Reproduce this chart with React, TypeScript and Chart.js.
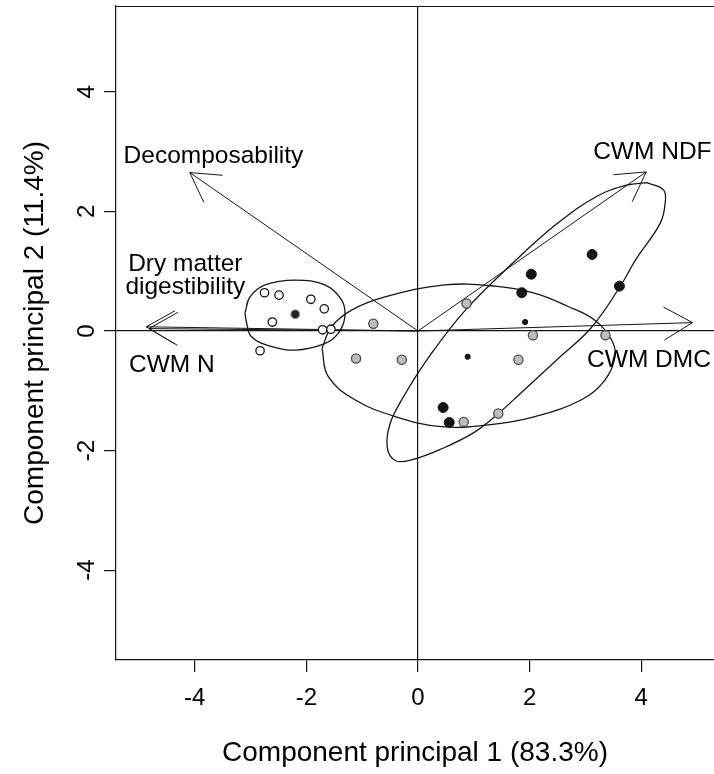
import React, { useEffect, useRef } from "react";
import { Chart, registerables } from "chart.js";

Chart.register(...registerables);

// ---------- data ----------
const X_TICKS = [-4, -2, 0, 2, 4];
const Y_TICKS = [-4, -2, 0, 2, 4];
const X_MIN = -5.412;
const X_MAX = 5.305;
const Y_MIN = -5.502;
const Y_MAX = 5.435;
const X_TITLE = "Component principal 1 (83.3%)";
const Y_TITLE = "Component principal 2 (11.4%)";

// group 1 (open circles)
const WHITE_X = [-2.75, -2.49, -1.92, -1.68, -2.61, -1.71, -1.56, -2.83];
const WHITE_Y = [0.64, 0.6, 0.53, 0.37, 0.15, 0.02, 0.03, -0.33];
const DARK_X = [-2.2];
const DARK_Y = [0.28];
// group 2 (grey circles)
const GRAY_X = [-0.8, -1.11, -0.29, 0.87, 2.06, 1.8, 3.36, 1.44, 0.82];
const GRAY_Y = [0.12, -0.46, -0.48, 0.46, -0.07, -0.48, -0.07, -1.38, -1.52];
// group 3 (black circles)
const BLACK_X = [3.12, 2.03, 1.86, 3.61, 0.45, 0.56];
const BLACK_Y = [1.28, 0.95, 0.64, 0.75, -1.28, -1.53];
const SMALL_X = [1.92, 0.89];
const SMALL_Y = [0.15, -0.43];

// ellipse outlines
const ELL1_X = [-3.1, -3.01, -2.74, -2.2, -1.67, -1.37, -1.31, -1.43, -1.67, -2.2, -2.62, -2.98, -3.07];
const ELL1_Y = [0.3, 0.57, 0.77, 0.85, 0.77, 0.52, 0.24, -0.04, -0.21, -0.32, -0.26, -0.1, 0.13];
const ELL2_X = [-1.72, -1.55, -1.19, -0.59, 0.48, 1.38, 2.1, 2.69, 3.17, 3.47, 3.53, 3.35, 2.93, 2.1, 1.26, 0.42, -0.41, -1.13, -1.61];
const ELL2_Y = [-0.29, 0.07, 0.35, 0.57, 0.77, 0.75, 0.63, 0.41, 0.18, -0.15, -0.43, -0.82, -1.15, -1.43, -1.57, -1.6, -1.43, -1.15, -0.76];
const ELL3_X = [4.1, 4.4, 4.43, 4.34, 3.9, 3.62, 3.1, 2.49, 1.83, 1.44, 1.0, 0.4, -0.1, -0.4, -0.55, -0.5, -0.26, 0.2, 0.85, 1.76, 2.5, 3.2, 3.74];
const ELL3_Y = [2.48, 2.36, 2.14, 1.8, 1.19, 0.74, 0.05, -0.48, -1.05, -1.38, -1.7, -1.98, -2.15, -2.17, -1.95, -1.55, -1.1, -0.43, 0.35, 1.19, 1.8, 2.25, 2.44];

// variable arrows (loadings)
const ARROW_NAMES = ["Decomposability", "CWM NDF", "CWM DMC", "CWM N", "Dry matter digestibility"];
const ARROW_X = [-4.09, 4.09, 4.92, -4.87, -4.82];
const ARROW_Y = [2.65, 2.66, 0.14, 0.07, 0.04];

// arrow labels (anchor in data units)
const LABEL_TEXT = ["Decomposability", "CWM NDF", "CWM DMC", "CWM N", "Dry matter", "digestibility"];
const LABEL_X = [-3.665, 4.2, 4.14, -4.41, -4.17, -4.17];
const LABEL_Y = [2.926, 2.99, -0.485, -0.569, 1.124, 0.736];

// ---------- styles ----------
const FONT = "'Liberation Sans', Arial, Helvetica, sans-serif";
const INK = "#151515";

const pts = (xs: number[], ys: number[]) => xs.map((x, i) => ({ x, y: ys[i] }));
const closed = (xs: number[], ys: number[]) => {
  const p = pts(xs, ys);
  return p.concat([p[0]]);
};

const extras = {
  id: "biplotExtras",
  afterDatasetsDraw(chart: any) {
    const { ctx, chartArea, scales } = chart;
    const sx = scales.x;
    const sy = scales.y;
    ctx.save();
    // top frame line
    ctx.strokeStyle = INK;
    ctx.lineWidth = 1.2;
    ctx.beginPath();
    ctx.moveTo(chartArea.left, chartArea.top + 0.5);
    ctx.lineTo(chartArea.right + 2, chartArea.top + 0.5);
    ctx.stroke();

    // arrow heads
    const ox = sx.getPixelForValue(0);
    const oy = sy.getPixelForValue(0);
    ctx.lineWidth = 1;
    const HEAD = 33;
    const ANG = Math.PI / 6;
    ARROW_X.forEach((ax, i) => {
      const tx = sx.getPixelForValue(ax);
      const ty = sy.getPixelForValue(ARROW_Y[i]);
      const a = Math.atan2(ty - oy, tx - ox) + Math.PI;
      ctx.beginPath();
      ctx.moveTo(tx + HEAD * Math.cos(a - ANG), ty + HEAD * Math.sin(a - ANG));
      ctx.lineTo(tx, ty);
      ctx.lineTo(tx + HEAD * Math.cos(a + ANG), ty + HEAD * Math.sin(a + ANG));
      ctx.stroke();
    });

    // labels
    ctx.fillStyle = "#000";
    ctx.font = `24.5px ${FONT}`;
    ctx.textAlign = "center";
    ctx.textBaseline = "middle";
    LABEL_TEXT.forEach((t, i) => {
      ctx.fillText(t, sx.getPixelForValue(LABEL_X[i]), sy.getPixelForValue(LABEL_Y[i]));
    });

    // y tick labels (rotated, R style)
    ctx.font = `24px ${FONT}`;
    Y_TICKS.forEach((v) => {
      const py = sy.getPixelForValue(v);
      ctx.save();
      ctx.translate(87, py);
      ctx.rotate(-Math.PI / 2);
      ctx.fillText(String(v), 0, 0);
      ctx.restore();
    });
    ctx.restore();
  },
};

export default function App() {
  const ref = useRef<HTMLCanvasElement | null>(null);

  useEffect(() => {
    if (!ref.current) return;
    const lineDs = (data: any[], width: number, tension: number) => ({
      type: "line" as const,
      data,
      showLine: true,
      borderColor: INK,
      borderWidth: width,
      pointRadius: 0,
      fill: false,
      tension,
    });

    const datasets: any[] = [
      { data: pts(SMALL_X, SMALL_Y), pointRadius: 2.6, backgroundColor: INK, borderColor: INK, borderWidth: 1 },
      { data: pts(BLACK_X, BLACK_Y), pointRadius: 5, backgroundColor: INK, borderColor: INK, borderWidth: 1 },
      { data: pts(GRAY_X, GRAY_Y), pointRadius: 4.6, backgroundColor: "#bdbdbd", borderColor: "#4a4a4a", borderWidth: 1.3 },
      { data: pts(DARK_X, DARK_Y), pointRadius: 4.3, backgroundColor: "#222", borderColor: "#8a8a8a", borderWidth: 1.2 },
      { data: pts(WHITE_X, WHITE_Y), pointRadius: 4.2, backgroundColor: "#fff", borderColor: INK, borderWidth: 1.3 },
      lineDs(closed(ELL1_X, ELL1_Y), 1.3, 0.4),
      lineDs(closed(ELL2_X, ELL2_Y), 1.3, 0.4),
      lineDs(closed(ELL3_X, ELL3_Y), 1.3, 0.4),
      ...ARROW_NAMES.map((n, i) => ({
        ...lineDs([{ x: 0, y: 0 }, { x: ARROW_X[i], y: ARROW_Y[i] }], 1, 0),
        label: n,
      })),
    ];

    const chart = new Chart(ref.current, {
      type: "scatter",
      data: { datasets },
      plugins: [extras],
      options: {
        animation: false,
        responsive: false,
        devicePixelRatio: 1,
        layout: { autoPadding: false, padding: { top: 6, left: 0, right: 0, bottom: 0 } },
        plugins: { legend: { display: false }, tooltip: { enabled: false } },
        scales: {
          x: {
            type: "linear",
            min: X_MIN,
            max: X_MAX,
            afterBuildTicks: (s: any) => {
              s.ticks = X_TICKS.map((v) => ({ value: v }));
            },
            afterFit: (s: any) => {
              s.height = 114;
              s.paddingLeft = 0;
              s.paddingRight = 0;
            },
            grid: {
              drawOnChartArea: true,
              drawTicks: true,
              tickLength: 12,
              lineWidth: 1.2,
              color: (c: any) => (c.tick && c.tick.value === 0 ? INK : "rgba(0,0,0,0)"),
              tickColor: INK,
            },
            border: { display: true, color: INK, width: 1.2 },
            ticks: {
              color: "#000",
              font: { family: FONT, size: 24 },
              padding: 12,
              maxRotation: 0,
              autoSkip: false,
            },
            title: {
              display: true,
              text: X_TITLE,
              color: "#000",
              font: { family: FONT, size: 28 },
              padding: { top: 0, bottom: 4 },
            },
          },
          y: {
            type: "linear",
            min: Y_MIN,
            max: Y_MAX,
            afterBuildTicks: (s: any) => {
              s.ticks = Y_TICKS.map((v) => ({ value: v }));
            },
            afterFit: (s: any) => {
              s.width = 116;
              s.paddingTop = 0;
              s.paddingBottom = 0;
            },
            grid: {
              drawOnChartArea: true,
              drawTicks: true,
              tickLength: 12,
              lineWidth: 1.2,
              color: (c: any) => (c.tick && c.tick.value === 0 ? INK : "rgba(0,0,0,0)"),
              tickColor: INK,
            },
            border: { display: true, color: INK, width: 1.2 },
            ticks: { display: false },
            title: {
              display: true,
              text: Y_TITLE,
              color: "#000",
              font: { family: FONT, size: 28 },
              padding: { top: 18, bottom: 0 },
            },
          },
        },
      } as any,
    });
    return () => chart.destroy();
  }, []);

  return (
    <div style={{ position: "absolute", left: 0, top: 0, width: 714, height: 774, background: "#fff" }}>
      <canvas ref={ref} width={714} height={774} />
    </div>
  );
}
